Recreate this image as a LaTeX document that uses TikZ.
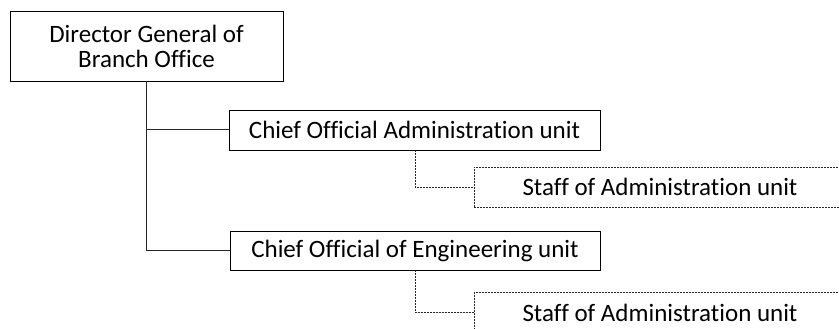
\documentclass[tikz,border=0pt]{standalone}
\usepackage{fontspec}
\setmainfont[Ligatures=NoCommon]{Carlito}
\begin{document}
\begin{tikzpicture}[x=1pt,y=-1pt,
  every node/.style={font=\fontsize{25}{25}\selectfont, inner sep=0pt, align=center},
  unitbox/.style={draw=black, line width=0.9pt, rectangle, fill=white},
  staffbox/.style={draw=black!85, line width=1pt, dash pattern=on 2pt off 1pt, rectangle, fill=white},
  link/.style={draw=black!85, line width=1pt},
  dlink/.style={draw=black!85, line width=1pt, dash pattern=on 2pt off 1pt}]
\useasboundingbox (0,0) rectangle (839,329);
\clip (0,0) rectangle (839,329);
% head of the branch office
\node[unitbox, minimum width=273pt, minimum height=70pt] (dir) at (146.5,46)
  {Director General of\\Branch Office};
% unit chiefs
\node[unitbox, minimum width=371pt, minimum height=40pt] (adm) at (414.5,130)
  {Chief Official Administration unit};
\node[unitbox, minimum width=370pt, minimum height=39pt] (eng) at (415,250.5)
  {Chief Official of Engineering unit};
% staff of each unit
\node[staffbox, minimum width=372pt, minimum height=40pt] (st1) at (660,187)
  {Staff of Administration unit};
\node[staffbox, minimum width=372pt, minimum height=40pt] (st2) at (660,312.5)
  {Staff of Administration unit};
% connectors
\coordinate (j1) at (415,150);
\coordinate (j2) at (415,270);
\draw[link] (dir.south) |- (adm.west);
\draw[link] (dir.south) |- (eng.west);
\draw[dlink] (j1) |- (st1.west);
\draw[dlink] (j2) |- (st2.west);
\end{tikzpicture}
\end{document}
